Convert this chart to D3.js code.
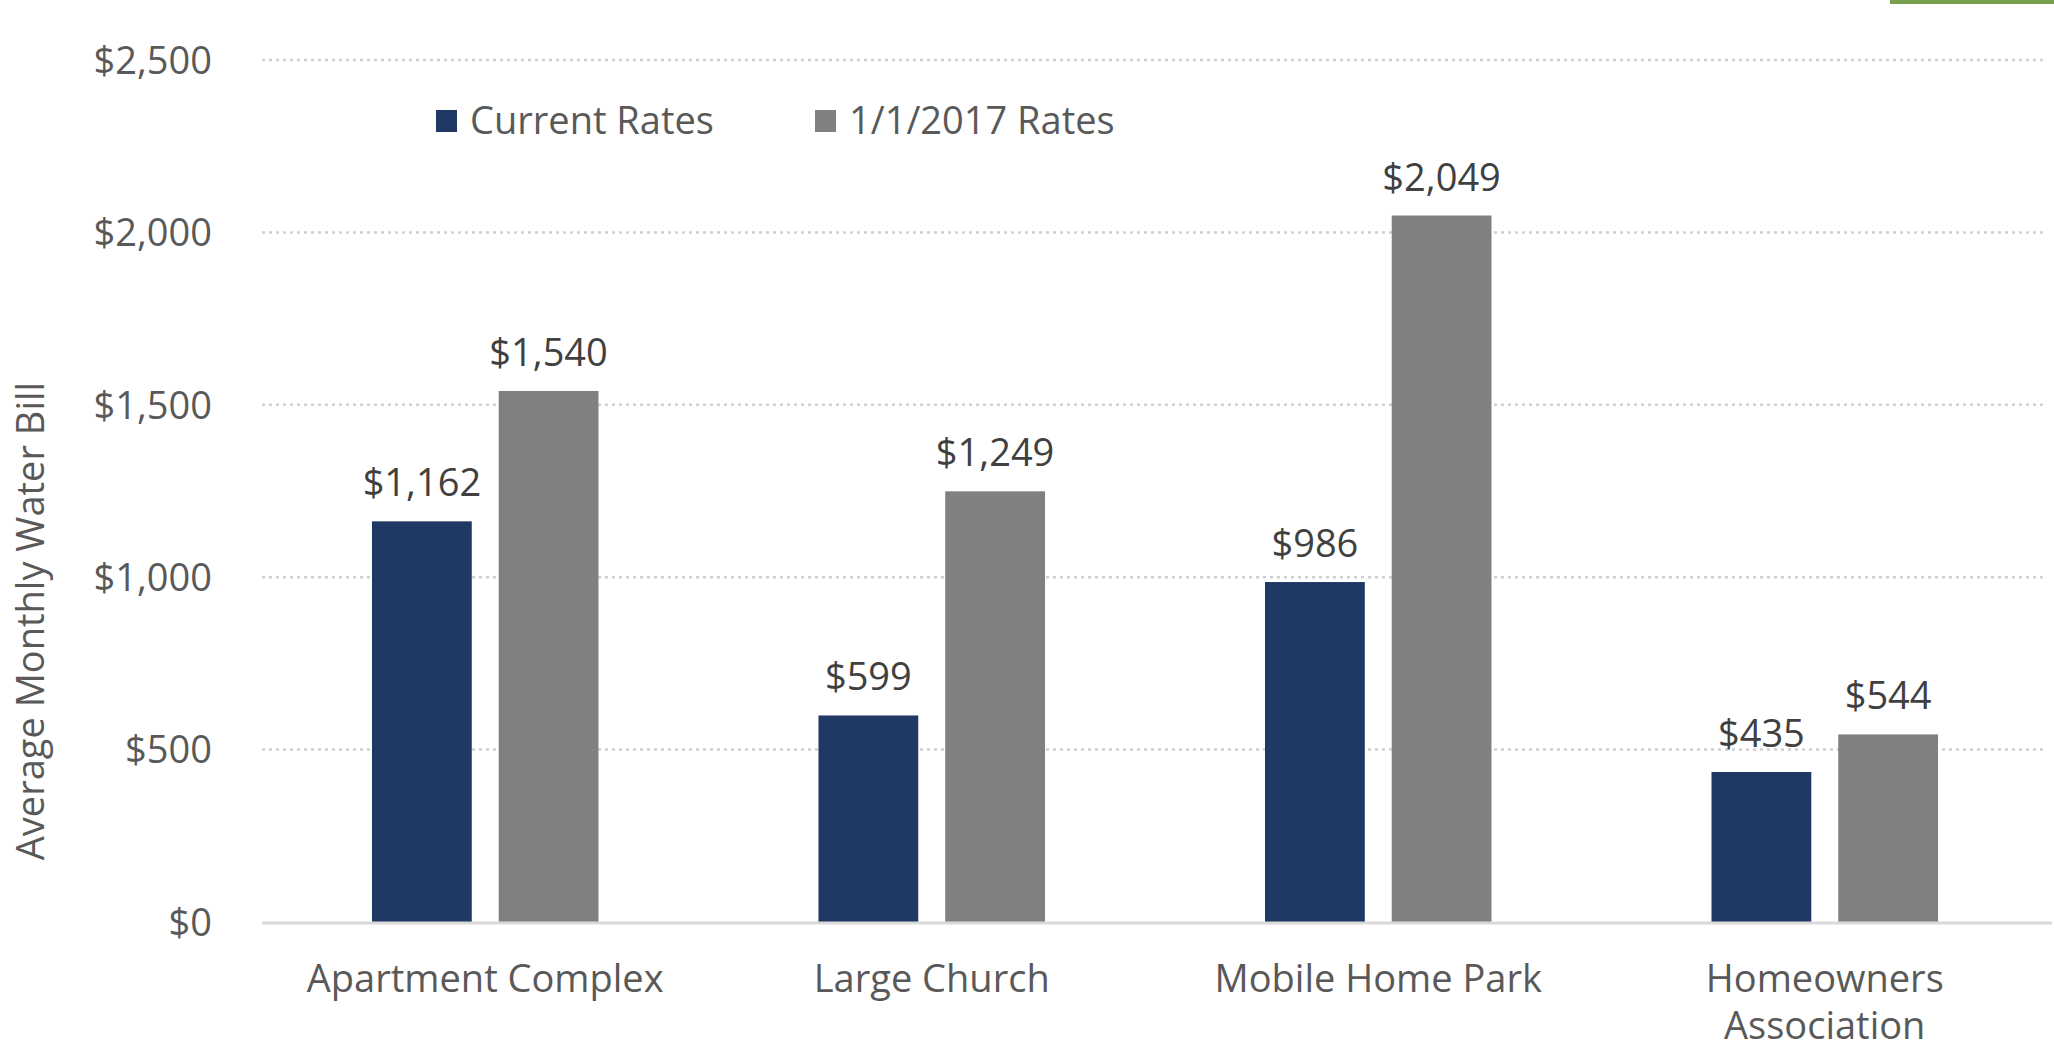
<!DOCTYPE html>
<html>
<head>
<meta charset="utf-8">
<script src="https://cdn.jsdelivr.net/npm/d3@7"></script>
<style>
  body { margin: 0; background: #fff; }
  text { font-family: "Open Sans", sans-serif; fill: #595959; }
</style>
</head>
<body>
<svg id="chart"></svg>
<script>
// Data
const categories = [["Apartment Complex"], ["Large Church"], ["Mobile Home Park"], ["Homeowners", "Association"]];
const seriesNames = ["Current Rates", "1/1/2017 Rates"];
const currentRates = [1162, 599, 986, 435];
const newRates = [1540, 1249, 2049, 544];
const yTicks = [0, 500, 1000, 1500, 2000, 2500];

const colors = ["#203864", "#808080"];

let width = 2054, height = 1049;
let margin = { top: 60, bottom: 127, left: 262, right: 2 };

let svg = d3.select('#chart')
    .attr('width', width)
    .attr('height', height);

// small corner artifact at top right
svg.append('rect')
    .attr('x', 1890).attr('y', 0)
    .attr('width', 164).attr('height', 4)
    .attr('fill', '#76a04f');

const catKeys = categories.map(d => d.join(' '));

let yScale = d3.scaleLinear()
    .domain([0, 2500])
    .range([height - margin.bottom, margin.top]);

let x0 = d3.scaleBand()
    .domain(catKeys)
    .range([margin.left, width - margin.right - 4])
    .paddingInner(0.4927)
    .paddingOuter(0.2463);

let x1 = d3.scaleBand()
    .domain(seriesNames)
    .range([0, x0.bandwidth()])
    .paddingInner(0.2126);

// gridlines
svg.append('g')
    .selectAll('line')
    .data(yTicks.filter(d => d > 0))
    .enter()
    .append('line')
    .attr('x1', margin.left)
    .attr('x2', width - 8)
    .attr('y1', d => yScale(d))
    .attr('y2', d => yScale(d))
    .attr('stroke', '#d0d0d0')
    .attr('stroke-width', 2.5)
    .attr('stroke-dasharray', '3,4');

// y axis labels
let yAxis = svg.append('g')
    .attr('transform', `translate(${margin.left}, 0)`)
    .call(d3.axisLeft(yScale).tickValues(yTicks).tickSize(0).tickPadding(50)
        .tickFormat(d => '$' + d3.format(',')(d)));
yAxis.select('.domain').remove();
yAxis.selectAll('text')
    .style('font-size', '38px')
    .attr('fill', '#595959')
    .attr('dy', '0.35em');

// bars
const rows = catKeys.map((c, i) => ({ cat: c, values: [currentRates[i], newRates[i]] }));

let groups = svg.selectAll('.group')
    .data(rows)
    .enter()
    .append('g')
    .attr('class', 'group')
    .attr('transform', d => `translate(${x0(d.cat)}, 0)`);

groups.selectAll('rect')
    .data(d => d.values.map((v, j) => ({ name: seriesNames[j], value: v, j: j })))
    .enter()
    .append('rect')
    .attr('x', d => x1(d.name))
    .attr('y', d => yScale(d.value))
    .attr('width', x1.bandwidth())
    .attr('height', d => yScale(0) - yScale(d.value))
    .attr('fill', d => colors[d.j]);

groups.selectAll('.label')
    .data(d => d.values.map((v, j) => ({ name: seriesNames[j], value: v })))
    .enter()
    .append('text')
    .attr('class', 'label')
    .attr('x', d => x1(d.name) + x1.bandwidth() / 2)
    .attr('y', d => yScale(d.value) - 25)
    .attr('text-anchor', 'middle')
    .style('font-size', '38px')
    .style('fill', '#404040')
    .text(d => '$' + d3.format(',')(d.value));

// x axis line
svg.append('line')
    .attr('x1', margin.left)
    .attr('x2', width - margin.right)
    .attr('y1', yScale(0) + 1)
    .attr('y2', yScale(0) + 1)
    .attr('stroke', '#d9d9d9')
    .attr('stroke-width', 3);

// x axis labels
categories.forEach((lines, i) => {
    let t = svg.append('text')
        .attr('x', x0(catKeys[i]) + x0.bandwidth() / 2)
        .attr('y', yScale(0) + 70)
        .attr('text-anchor', 'middle')
        .style('font-size', '38px');
    lines.forEach((ln, k) => {
        t.append('tspan')
            .attr('x', x0(catKeys[i]) + x0.bandwidth() / 2)
            .attr('dy', k === 0 ? 0 : 47)
            .text(ln);
    });
});

// y axis title
svg.append('text')
    .attr('transform', `translate(44, ${(yScale(0) + yScale(2500)) / 2 + 130}) rotate(-90)`)
    .attr('text-anchor', 'middle')
    .style('font-size', '38px')
    .text('Average Monthly Water Bill');

// legend
const legendX = [436, 815];
let legend = svg.selectAll('.legend')
    .data(seriesNames)
    .enter()
    .append('g')
    .attr('class', 'legend')
    .attr('transform', (d, i) => `translate(${legendX[i]}, 110)`);

legend.append('rect')
    .attr('width', 21)
    .attr('height', 22)
    .attr('fill', (d, i) => colors[i]);

legend.append('text')
    .attr('x', 34)
    .attr('y', 24)
    .style('font-size', '38px')
    .text(d => d);
</script>
</body>
</html>
